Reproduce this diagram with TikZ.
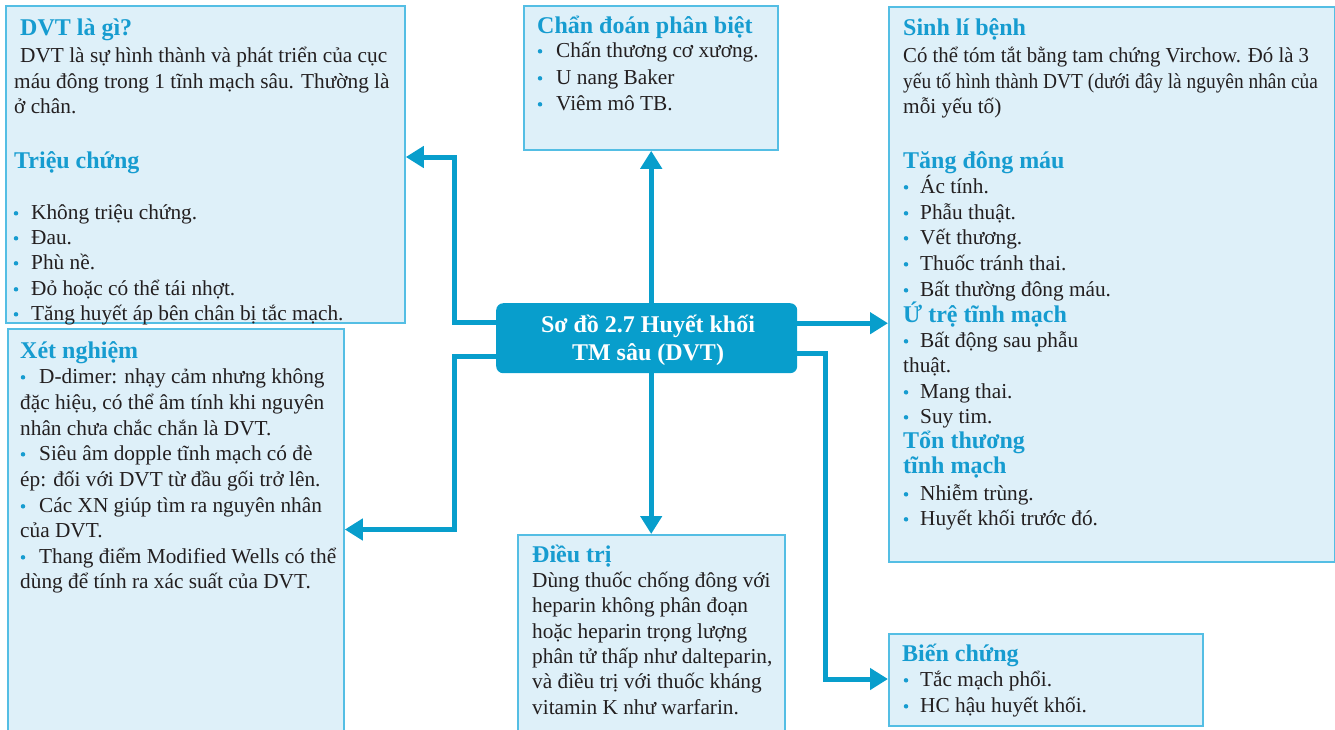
\documentclass[tikz,border=0pt]{standalone}
\usepackage{fontspec}
\setmainfont{Liberation Serif}
\usetikzlibrary{arrows.meta}

\definecolor{boxfill}{RGB}{222,240,249}
\definecolor{boxline}{RGB}{84,190,228}
\definecolor{accent}{RGB}{8,158,204}
\definecolor{headcol}{RGB}{22,156,208}
\definecolor{bodycol}{RGB}{35,31,32}

\tikzset{
  box/.style={draw=boxline, line width=1.8pt, fill=boxfill, rectangle, anchor=north west, inner sep=0pt},
  ctrbox/.style={fill=accent, rectangle, rounded corners=7pt, anchor=north west, inner sep=0pt},
  body/.style={anchor=base west, inner sep=0pt, text=bodycol, font=\fontsize{21.3}{25.5}\selectfont},
  head/.style={anchor=base west, inner sep=0pt, text=headcol, font=\bfseries\fontsize{24}{28}\selectfont},
  ctrtext/.style={anchor=base, inner sep=0pt, text=white, font=\bfseries\fontsize{24}{28}\selectfont},
  dot/.style={circle, fill=headcol, minimum size=4.5pt, inner sep=0pt},
  conn/.style={draw=accent, line width=5pt, -{Triangle[length=18pt,width=21pt]}}
}

% bullet item: name, dot x, text x, baseline y, text
\newcommand\bitem[5]{%
  \node[dot] (#1d) at (#2,#4-5.7) {};
  \node[body] (#1) at (#3,#4) {#5};}

\begin{document}
\begin{tikzpicture}[x=1pt, y=-1pt]
\useasboundingbox (0,0) rectangle (1335,729);
\clip (0,0) rectangle (1335,729);

% boxes
\node[box, minimum width=399pt, minimum height=317pt] (b1) at (5,5) {};
\node[box, minimum width=336pt, minimum height=420pt] (b2) at (7,328) {};
\node[box, minimum width=254pt, minimum height=144pt] (b3) at (523,5) {};
\node[box, minimum width=267pt, minimum height=210pt] (b4) at (517,534) {};
\node[box, minimum width=446pt, minimum height=555pt] (b5) at (888,6) {};
\node[box, minimum width=314pt, minimum height=92pt] (b6) at (888,633) {};
\node[ctrbox, minimum width=301pt, minimum height=70pt] (ctr) at (496,303) {};

% central title
\node[ctrtext] (t1) at (648,332) {Sơ đồ 2.7 Huyết khối};
\node[ctrtext] (t2) at (648,360) {TM sâu (DVT)};

% connectors
\coordinate (lu) at (454.5,157);
\coordinate (ld) at (454.5,529.5);
\coordinate (rd) at (825.5,679);
\draw[conn] ([yshift=16pt]ctr.west) -| (lu) -- (lu -| b1.east);
\draw[conn] ([yshift=-18pt]ctr.west) -| (ld) -- (ld -| b2.east);
\draw[conn] ([xshift=4.5pt]ctr.north) -- ([xshift=4.5pt]ctr.north |- b3.south);
\draw[conn] ([xshift=4.5pt]ctr.south) -- ([xshift=4.5pt]ctr.south |- b4.north);
\draw[conn] ([yshift=15pt]ctr.east) -- ([yshift=15pt]ctr.east -| b5.west);
\draw[conn] ([yshift=-15.5pt]ctr.east) -| (rd) -- (rd -| b6.west);

% DVT là gì / Triệu chứng
\node[head] (b1h) at (20,35) {DVT là gì?};
\node[body] (b1a) at (20,62) {DVT là sự hình thành và phát triển của cục};
\node[body] (b1b) at (14,88) {máu đông trong 1 tĩnh mạch sâu. Thường là};
\node[body] (b1c) at (14,113) {ở chân.};
\node[head] (b1k) at (14,168) {Triệu chứng};
\bitem{b1p}{16}{31}{219}{Không triệu chứng.}
\bitem{b1q}{16}{31}{244}{Đau.}
\bitem{b1r}{16}{31}{269}{Phù nề.}
\bitem{b1s}{16}{31}{295}{Đỏ hoặc có thể tái nhợt.}
\bitem{b1t}{16}{31}{320}{Tăng huyết áp bên chân bị tắc mạch.}

% Xét nghiệm
\node[head] (b2h) at (20,358) {Xét nghiệm};
\bitem{b2a}{23}{39}{383}{D-dimer: nhạy cảm nhưng không}
\node[body] (b2b) at (20,409) {đặc hiệu, có thể âm tính khi nguyên};
\node[body] (b2c) at (20,435) {nhân chưa chắc chắn là DVT.};
\bitem{b2e}{23}{39}{460}{Siêu âm dopple tĩnh mạch có đè}
\node[body] (b2f) at (20,486) {ép: đối với DVT từ đầu gối trở lên.};
\bitem{b2g}{23}{39}{512}{Các XN giúp tìm ra nguyên nhân}
\node[body] (b2i) at (20,537) {của DVT.};
\bitem{b2j}{23}{39}{563}{Thang điểm Modified Wells có thể}
\node[body] (b2k) at (20,588) {dùng để tính ra xác suất của DVT.};

% Chẩn đoán phân biệt
\node[head] (b3h) at (537,33) {Chẩn đoán phân biệt};
\bitem{b3a}{540}{556}{57}{Chấn thương cơ xương.}
\bitem{b3b}{540}{556}{84}{U nang Baker}
\bitem{b3c}{540}{556}{110}{Viêm mô TB.}

% Điều trị
\node[head] (b4h) at (532,562) {Điều trị};
\node[body] (b4a) at (532,587) {Dùng thuốc chống đông với};
\node[body] (b4b) at (532,612) {heparin không phân đoạn};
\node[body] (b4c) at (532,638) {hoặc heparin trọng lượng};
\node[body] (b4d) at (532,663) {phân tử thấp như dalteparin,};
\node[body] (b4e) at (532,688) {và điều trị với thuốc kháng};
\node[body] (b4f) at (532,714) {vitamin K như warfarin.};

% Sinh lí bệnh
\node[head] (b5h) at (903,35) {Sinh lí bệnh};
\node[body] (b5a) at (903,62) {\scalebox{0.976}[1]{Có thể tóm tắt bằng tam chứng Virchow. Đó là 3}};
\node[body] (b5b) at (903,88) {\scalebox{0.91}[1]{yếu tố hình thành DVT (dưới đây là nguyên nhân của}};
\node[body] (b5c) at (903,113) {mỗi yếu tố)};
\node[head] (b5k) at (903,168) {Tăng đông máu};
\bitem{b5p}{906}{920}{193}{Ác tính.}
\bitem{b5q}{906}{920}{219}{Phẫu thuật.}
\bitem{b5r}{906}{920}{244}{Vết thương.}
\bitem{b5s}{906}{920}{270}{Thuốc tránh thai.}
\bitem{b5t}{906}{920}{296}{Bất thường đông máu.}
\node[head] (b5u) at (903,322) {Ứ trệ tĩnh mạch};
\bitem{b5v}{906}{920}{347}{Bất động sau phẫu}
\node[body] (b5w) at (903,372) {thuật.};
\bitem{b5x}{906}{920}{398}{Mang thai.}
\bitem{b5y}{906}{920}{423}{Suy tim.}
\node[head] (b5z) at (903,448) {Tổn thương};
\node[head] (b5zz) at (903,473) {tĩnh mạch};
\bitem{b5m}{906}{920}{500}{Nhiễm trùng.}
\bitem{b5n}{906}{920}{525}{Huyết khối trước đó.}

% Biến chứng
\node[head] (b6h) at (902,661) {Biến chứng};
\bitem{b6a}{906}{920}{686}{Tắc mạch phổi.}
\bitem{b6b}{906}{920}{712}{HC hậu huyết khối.}
\end{tikzpicture}
\end{document}
